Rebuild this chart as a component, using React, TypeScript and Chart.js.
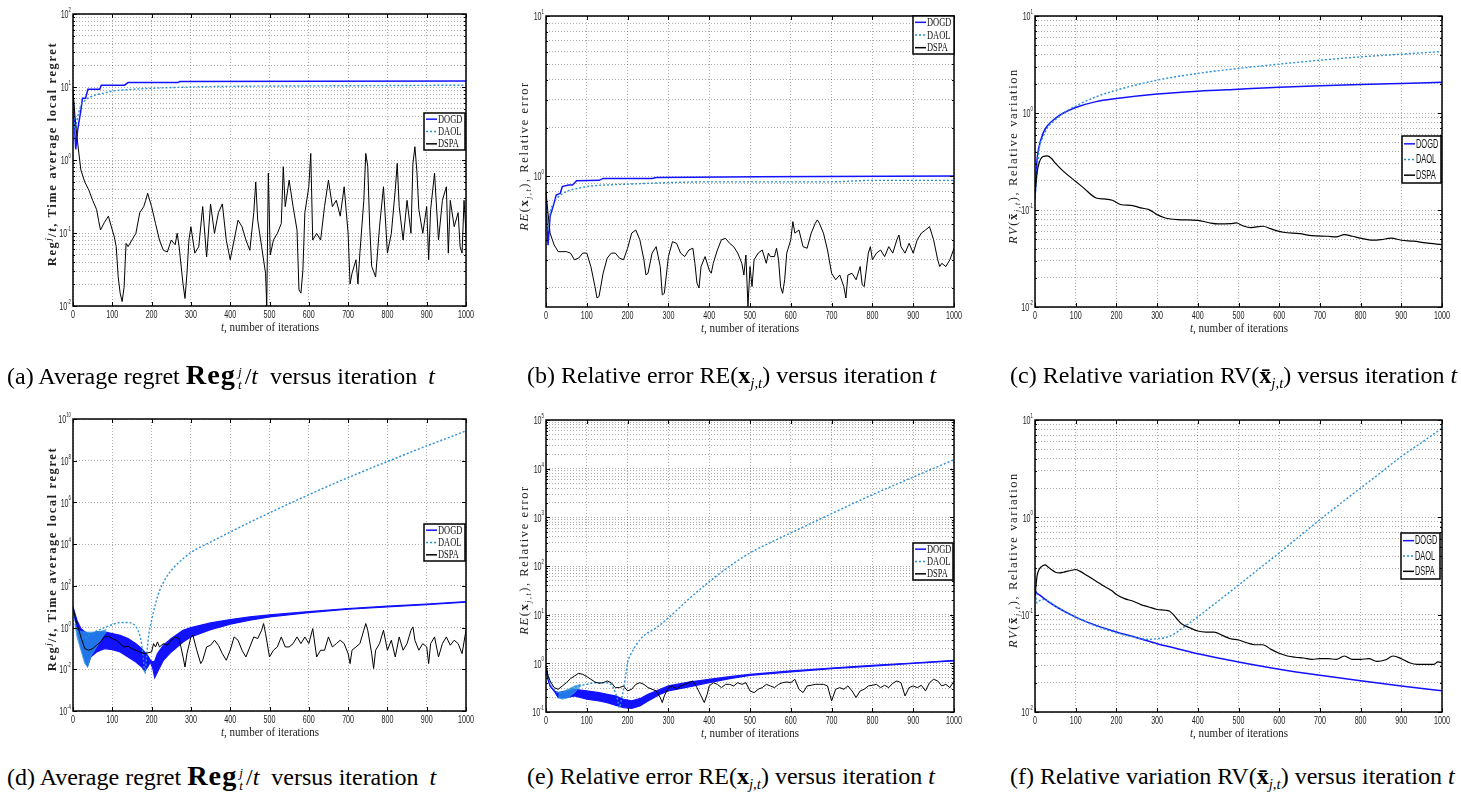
import React, { useEffect, useRef } from "react";
import { Chart, registerables } from "chart.js";

Chart.register(...registerables);

type Pt = [number, number];

// ---------- shared labels ----------
const SERIES_NAMES = ["DOGD", "DAOL", "DSPA"];
const COLOR_DOGD = "#1212ff";
const COLOR_DAOL = "#2a90d8";
const COLOR_DSPA = "#000000";
const SERIES_COLORS = [COLOR_DOGD, COLOR_DAOL, COLOR_DSPA];
const X_TICKS = [0, 100, 200, 300, 400, 500, 600, 700, 800, 900, 1000];

const A_DECADES = [-2, -1, 0, 1, 2];
const B_DECADES = [0, 1];
const C_DECADES = [-2, -1, 0, 1];
const D_DECADES = [-4, -2, 0, 2, 4, 6, 8, 10];
const E_DECADES = [-1, 0, 1, 2, 3, 4, 5];
const F_DECADES = [-2, -1, 0, 1];

// ---------- (a) ----------
const A_DOGD: Pt[] = [[0, 8.2], [3, 3.5], [7, 1.4], [12, 2.6], [20, 4.8], [24, 7.0], [32, 7.0], [38, 9.3], [68, 9.3], [72, 10.6], [131, 10.6], [140, 11.5], [267, 11.5], [272, 11.9], [1000, 12.1]];
const A_DAOL: Pt[] = [[0, 8], [5, 2.5], [10, 3.5], [20, 5.5], [30, 6.5], [50, 7.5], [80, 8.3], [100, 8.8], [150, 9.3], [200, 9.6], [300, 10.0], [400, 10.2], [500, 10.3], [700, 10.4], [1000, 10.6]];
const A_DSPA: Pt[] = [[0, 9], [5, 4], [10, 2.09], [20, 0.73], [30, 0.5], [40, 0.39], [50, 0.28], [60, 0.21], [65, 0.15], [70, 0.11], [80, 0.14], [90, 0.17], [100, 0.11], [105, 0.089], [110, 0.065], [115, 0.025], [120, 0.015], [125, 0.0115], [130, 0.018], [135, 0.072], [140, 0.065], [150, 0.08], [160, 0.099], [170, 0.19], [180, 0.23], [185, 0.28], [190, 0.35], [200, 0.23], [210, 0.135], [220, 0.08], [230, 0.058], [240, 0.055], [250, 0.08], [260, 0.069], [265, 0.099], [270, 0.065], [280, 0.02], [285, 0.0127], [290, 0.028], [295, 0.08], [300, 0.122], [310, 0.053], [320, 0.065], [330, 0.23], [340, 0.047], [350, 0.25], [360, 0.099], [370, 0.19], [380, 0.25], [390, 0.08], [400, 0.043], [410, 0.08], [420, 0.15], [430, 0.122], [440, 0.08], [450, 0.058], [460, 0.19], [465, 0.5], [470, 0.15], [480, 0.065], [490, 0.028], [493, 0.01], [497, 0.66], [502, 0.05], [510, 0.08], [520, 0.099], [530, 0.135], [535, 0.81], [540, 0.23], [550, 0.53], [560, 0.23], [570, 0.11], [575, 0.0166], [580, 0.015], [585, 0.031], [590, 0.19], [600, 0.43], [605, 1.23], [610, 0.08], [620, 0.099], [630, 0.08], [640, 0.23], [650, 0.53], [660, 0.23], [670, 0.28], [680, 0.17], [690, 0.43], [700, 0.099], [705, 0.02], [710, 0.028], [720, 0.043], [725, 0.02], [730, 0.053], [740, 0.28], [745, 1.23], [750, 0.81], [755, 0.122], [760, 0.035], [770, 0.025], [780, 0.122], [790, 0.43], [800, 0.053], [810, 0.099], [820, 0.39], [825, 0.9], [830, 0.23], [840, 0.08], [850, 0.28], [860, 0.099], [865, 0.9], [870, 1.52], [875, 0.7], [880, 0.21], [890, 0.099], [900, 0.23], [905, 0.043], [910, 0.21], [920, 0.66], [930, 0.08], [940, 0.28], [950, 0.43], [955, 0.053], [960, 0.28], [970, 0.122], [980, 0.19], [985, 0.065], [990, 0.053], [995, 0.28], [1000, 0.099]];

// ---------- (b) ----------
const B_DOGD: Pt[] = [[0, 0.7], [5, 0.37], [10, 0.56], [20, 0.68], [25, 0.76], [35, 0.78], [40, 0.86], [55, 0.88], [65, 0.88], [75, 0.935], [130, 0.94], [140, 0.967], [260, 0.967], [270, 0.98], [520, 0.99], [1000, 1.0]];
const B_DAOL: Pt[] = [[0, 0.7], [5, 0.46], [10, 0.585], [20, 0.69], [30, 0.74], [50, 0.8], [80, 0.84], [100, 0.86], [150, 0.88], [200, 0.89], [300, 0.91], [400, 0.92], [600, 0.92], [700, 0.92], [800, 0.94], [1000, 0.94]];
const B_DSPA: Pt[] = [[0, 0.8], [5, 0.585], [10, 0.44], [20, 0.371], [30, 0.337], [50, 0.337], [60, 0.33], [70, 0.3], [80, 0.307], [90, 0.33], [100, 0.33], [110, 0.272], [120, 0.204], [125, 0.173], [130, 0.177], [140, 0.247], [150, 0.307], [160, 0.33], [170, 0.33], [180, 0.307], [190, 0.3], [200, 0.354], [210, 0.44], [220, 0.46], [230, 0.4], [240, 0.3], [245, 0.241], [250, 0.247], [260, 0.33], [270, 0.362], [280, 0.272], [285, 0.181], [290, 0.185], [300, 0.314], [310, 0.389], [320, 0.38], [330, 0.33], [340, 0.314], [350, 0.345], [360, 0.354], [365, 0.285], [370, 0.214], [375, 0.2], [380, 0.272], [390, 0.314], [400, 0.259], [405, 0.247], [410, 0.285], [420, 0.345], [430, 0.4], [440, 0.408], [450, 0.38], [460, 0.362], [470, 0.33], [480, 0.285], [485, 0.241], [490, 0.321], [495, 0.153], [500, 0.272], [505, 0.204], [510, 0.3], [520, 0.33], [530, 0.345], [540, 0.285], [545, 0.33], [550, 0.314], [560, 0.314], [565, 0.354], [570, 0.3], [575, 0.204], [580, 0.185], [585, 0.225], [590, 0.33], [600, 0.4], [605, 0.519], [610, 0.44], [620, 0.46], [630, 0.362], [640, 0.354], [650, 0.44], [660, 0.507], [665, 0.532], [670, 0.507], [680, 0.44], [690, 0.345], [700, 0.247], [710, 0.225], [720, 0.241], [730, 0.204], [735, 0.173], [740, 0.241], [750, 0.247], [760, 0.225], [770, 0.272], [775, 0.209], [780, 0.204], [790, 0.33], [795, 0.362], [800, 0.3], [810, 0.33], [820, 0.345], [830, 0.314], [840, 0.362], [850, 0.33], [860, 0.4], [865, 0.428], [870, 0.362], [880, 0.33], [890, 0.38], [900, 0.33], [910, 0.4], [920, 0.44], [930, 0.46], [940, 0.483], [950, 0.4], [960, 0.3], [965, 0.272], [970, 0.285], [980, 0.272], [990, 0.3], [1000, 0.354]];

// ---------- (c) ----------
const C_DOGD: Pt[] = [[0, 0.13], [5, 0.33], [10, 0.45], [20, 0.62], [30, 0.735], [50, 0.88], [70, 1.0], [100, 1.14], [150, 1.31], [200, 1.41], [300, 1.57], [400, 1.68], [500, 1.76], [600, 1.84], [700, 1.91], [800, 1.97], [900, 2.02], [1000, 2.07]];
const C_DAOL: Pt[] = [[0, 0.13], [10, 0.42], [20, 0.57], [30, 0.7], [50, 0.85], [70, 1.0], [100, 1.18], [150, 1.47], [200, 1.72], [300, 2.18], [400, 2.56], [500, 2.88], [600, 3.19], [700, 3.5], [800, 3.79], [900, 4.04], [1000, 4.3]];
const C_DSPA: Pt[] = [[0, 0.15], [5, 0.24], [10, 0.304], [20, 0.356], [30, 0.361], [40, 0.342], [50, 0.304], [70, 0.25], [100, 0.197], [120, 0.168], [150, 0.133], [170, 0.13], [190, 0.126], [210, 0.114], [240, 0.111], [260, 0.105], [280, 0.101], [300, 0.0896], [320, 0.0827], [350, 0.0796], [400, 0.0783], [430, 0.0735], [450, 0.0718], [480, 0.0724], [495, 0.0735], [510, 0.069], [530, 0.0658], [560, 0.068], [580, 0.0638], [610, 0.059], [650, 0.0571], [680, 0.0545], [720, 0.0536], [740, 0.0528], [760, 0.0558], [780, 0.0536], [800, 0.0512], [830, 0.0488], [850, 0.0494], [875, 0.0512], [900, 0.0488], [930, 0.0477], [960, 0.0458], [1000, 0.044]];

// ---------- (d) ----------
const D_DOGD_HI: Pt[] = [[0, 9.8], [10, 2.25], [20, 0.895], [30, 0.62], [37, 0.55], [45, 0.515], [60, 0.62], [80, 0.62], [100, 0.515], [120, 0.43], [140, 0.296], [160, 0.17], [175, 0.098], [183, 0.065], [190, 0.045], [197, 0.027], [203, 0.0225], [208, 0.025], [215, 0.0565], [230, 0.142], [250, 0.296], [280, 0.745], [300, 1.0], [350, 1.67], [400, 2.42], [450, 3.25], [500, 4.06], [600, 5.86], [700, 8.17], [800, 10.6], [900, 13.2], [1000, 17.7]];
const D_DOGD_LO: Pt[] = [[0, 9.8], [10, 0.745], [20, 0.118], [30, 0.027], [37, 0.0139], [45, 0.039], [60, 0.068], [80, 0.098], [100, 0.088], [120, 0.068], [140, 0.039], [160, 0.0225], [175, 0.0129], [183, 0.0083], [190, 0.0129], [197, 0.0225], [203, 0.0108], [208, 0.004], [215, 0.0074], [230, 0.027], [250, 0.068], [280, 0.205], [300, 0.356], [350, 0.8], [400, 1.45], [450, 2.25], [500, 3.25], [600, 5.25], [700, 7.6], [800, 9.8], [900, 12.7], [1000, 16.4]];
const D_DAOL_HI: Pt[] = [[5, 1.5], [10, 0.745], [20, 0.65], [30, 0.62], [37, 0.6], [45, 0.6], [60, 0.62], [75, 0.7], [85, 0.8]];
const D_DAOL_LO: Pt[] = [[5, 1.5], [10, 0.356], [20, 0.082], [30, 0.0187], [37, 0.0129], [45, 0.039], [60, 0.118], [75, 0.356], [85, 0.62]];
const D_DAOL: Pt[] = [[0, 9.8], [10, 0.8], [20, 0.4], [30, 0.3], [40, 0.43], [60, 0.69], [80, 1.0], [100, 1.39], [120, 1.74], [140, 1.74], [155, 1.39], [165, 0.745], [172, 0.296], [178, 0.0565], [183, 0.0062], [187, 0.039], [192, 0.356], [200, 2.24], [210, 14.1], [220, 56], [237, 251], [260, 891], [280, 1995], [300, 3981], [350, 12589], [400, 38019], [450, 112202], [500, 316228], [550, 870964], [600, 2.34e6], [650, 6.17e6], [700, 1.55e7], [750, 3.8e7], [800, 9.12e7], [850, 2.19e8], [900, 5.13e8], [950, 1.17e9], [1000, 2.69e9]];
const D_DSPA: Pt[] = [[0, 9.8], [5, 3.25], [10, 1.56], [20, 0.356], [30, 0.098], [40, 0.082], [50, 0.098], [60, 0.142], [70, 0.205], [80, 0.356], [90, 0.384], [100, 0.296], [110, 0.247], [120, 0.17], [130, 0.118], [140, 0.127], [150, 0.098], [160, 0.082], [170, 0.068], [180, 0.0565], [190, 0.061], [200, 0.068], [205, 0.17], [210, 0.118], [215, 0.205], [220, 0.118], [230, 0.17], [240, 0.142], [250, 0.247], [260, 0.356], [270, 0.296], [280, 0.039], [285, 0.0129], [290, 0.0565], [300, 0.356], [305, 0.43], [315, 0.082], [325, 0.0187], [330, 0.027], [340, 0.118], [350, 0.142], [360, 0.247], [370, 0.142], [380, 0.0565], [390, 0.027], [400, 0.082], [410, 0.356], [420, 0.247], [430, 0.082], [440, 0.039], [450, 0.118], [460, 0.356], [470, 0.296], [480, 0.745], [485, 1.56], [490, 0.515], [500, 0.039], [510, 0.082], [520, 0.118], [530, 0.356], [540, 0.118], [550, 0.118], [560, 0.17], [570, 0.356], [580, 0.17], [590, 0.356], [600, 0.17], [610, 0.895], [620, 0.039], [630, 0.082], [640, 0.082], [650, 0.356], [660, 0.118], [670, 0.17], [680, 0.247], [690, 0.17], [700, 0.0565], [705, 0.0187], [710, 0.082], [720, 0.118], [730, 0.17], [740, 0.745], [745, 1.56], [750, 0.745], [760, 0.0565], [765, 0.0108], [770, 0.082], [780, 0.17], [790, 0.745], [800, 0.082], [810, 0.247], [820, 0.039], [830, 0.356], [840, 0.082], [850, 0.17], [860, 0.745], [865, 1.08], [870, 0.247], [880, 0.082], [890, 0.17], [900, 0.118], [905, 0.0187], [910, 0.17], [920, 0.356], [930, 0.039], [940, 0.17], [950, 0.356], [960, 0.142], [970, 0.247], [980, 0.17], [990, 0.0565], [1000, 0.745]];

// ---------- (e) ----------
const E_DOGD_HI: Pt[] = [[0, 0.88], [5, 0.47], [10, 0.343], [20, 0.271], [30, 0.25], [50, 0.271], [70, 0.293], [100, 0.271], [130, 0.25], [150, 0.231], [170, 0.214], [190, 0.183], [210, 0.169], [230, 0.188], [250, 0.231], [280, 0.293], [300, 0.343], [350, 0.414], [400, 0.47], [450, 0.533], [500, 0.595], [600, 0.697], [700, 0.802], [800, 0.91], [900, 1.016], [1000, 1.15]];
const E_DOGD_LO: Pt[] = [[0, 0.88], [5, 0.47], [10, 0.343], [20, 0.271], [30, 0.198], [50, 0.198], [70, 0.214], [100, 0.183], [130, 0.169], [150, 0.156], [170, 0.138], [190, 0.123], [210, 0.119], [230, 0.133], [250, 0.169], [280, 0.231], [300, 0.271], [350, 0.327], [400, 0.402], [450, 0.485], [500, 0.567], [600, 0.664], [700, 0.778], [800, 0.88], [900, 1.0], [1000, 1.12]];
const E_DAOL_HI: Pt[] = [[30, 0.25], [40, 0.26], [55, 0.293], [70, 0.343], [85, 0.37]];
const E_DAOL_LO: Pt[] = [[30, 0.198], [40, 0.183], [55, 0.198], [70, 0.25], [85, 0.343]];
const E_DAOL: Pt[] = [[0, 0.88], [5, 0.55], [10, 0.4], [20, 0.293], [30, 0.25], [40, 0.25], [60, 0.293], [80, 0.343], [100, 0.37], [120, 0.4], [150, 0.4], [165, 0.317], [175, 0.183], [180, 0.123], [185, 0.183], [190, 0.293], [197, 0.697], [200, 1.03], [210, 1.65], [222, 2.45], [238, 3.6], [271, 5.4], [300, 8.6], [353, 22], [402, 49], [450, 99], [500, 186], [557, 323], [600, 478], [700, 1190], [800, 2920], [900, 6730], [1000, 15250]];
const E_DSPA: Pt[] = [[0, 0.88], [5, 0.55], [10, 0.435], [20, 0.317], [30, 0.293], [40, 0.343], [50, 0.4], [60, 0.485], [70, 0.55], [80, 0.624], [90, 0.595], [100, 0.533], [110, 0.47], [120, 0.414], [130, 0.39], [140, 0.4], [150, 0.435], [160, 0.4], [170, 0.317], [180, 0.317], [190, 0.343], [200, 0.271], [210, 0.293], [220, 0.37], [230, 0.4], [240, 0.37], [250, 0.317], [260, 0.293], [270, 0.271], [280, 0.198], [285, 0.156], [290, 0.214], [300, 0.317], [310, 0.343], [320, 0.293], [330, 0.343], [340, 0.37], [350, 0.4], [360, 0.435], [370, 0.317], [380, 0.214], [388, 0.156], [395, 0.231], [400, 0.343], [410, 0.4], [420, 0.37], [430, 0.317], [440, 0.37], [450, 0.37], [460, 0.343], [470, 0.4], [480, 0.37], [490, 0.4], [500, 0.271], [510, 0.25], [520, 0.293], [530, 0.317], [540, 0.37], [550, 0.343], [560, 0.317], [570, 0.37], [580, 0.4], [590, 0.414], [600, 0.4], [610, 0.47], [620, 0.293], [630, 0.25], [640, 0.343], [650, 0.354], [660, 0.37], [670, 0.37], [680, 0.37], [690, 0.343], [700, 0.169], [710, 0.293], [720, 0.317], [730, 0.293], [740, 0.343], [750, 0.271], [760, 0.198], [770, 0.271], [780, 0.293], [790, 0.343], [800, 0.354], [810, 0.37], [820, 0.317], [830, 0.354], [840, 0.317], [850, 0.39], [860, 0.435], [870, 0.4], [880, 0.214], [890, 0.317], [900, 0.343], [910, 0.317], [920, 0.354], [930, 0.271], [940, 0.4], [950, 0.47], [960, 0.435], [970, 0.343], [980, 0.37], [990, 0.317], [1000, 0.435]];

// ---------- (f) ----------
const F_DOGD: Pt[] = [[0, 0.181], [5, 0.165], [10, 0.161], [20, 0.149], [50, 0.122], [100, 0.0944], [150, 0.0776], [200, 0.0663], [250, 0.058], [300, 0.0503], [350, 0.0447], [400, 0.0397], [500, 0.0327], [600, 0.0275], [700, 0.0238], [800, 0.0209], [900, 0.0185], [1000, 0.0165]];
const F_DAOL: Pt[] = [[0, 0.181], [5, 0.132], [10, 0.138], [20, 0.143], [30, 0.14], [50, 0.122], [70, 0.109], [100, 0.0944], [150, 0.0763], [200, 0.0652], [250, 0.058], [280, 0.0557], [300, 0.0566], [320, 0.058], [340, 0.0627], [360, 0.0716], [380, 0.0826], [400, 0.0951], [450, 0.138], [500, 0.201], [550, 0.295], [600, 0.431], [650, 0.639], [700, 0.946], [750, 1.38], [800, 2.0], [850, 2.89], [900, 4.22], [950, 5.87], [1000, 8.24]];
const F_DSPA: Pt[] = [[0, 0.155], [5, 0.249], [10, 0.291], [20, 0.32], [25, 0.325], [30, 0.315], [40, 0.291], [50, 0.273], [60, 0.269], [70, 0.273], [80, 0.28], [90, 0.286], [100, 0.291], [110, 0.28], [130, 0.249], [150, 0.221], [170, 0.196], [190, 0.175], [200, 0.161], [220, 0.146], [240, 0.138], [260, 0.127], [280, 0.12], [300, 0.113], [320, 0.111], [330, 0.109], [340, 0.1], [350, 0.0893], [360, 0.0807], [380, 0.0734], [400, 0.0679], [420, 0.0663], [440, 0.0663], [460, 0.0613], [480, 0.0566], [500, 0.0549], [520, 0.0515], [540, 0.0491], [560, 0.0491], [580, 0.044], [600, 0.0401], [620, 0.0376], [640, 0.0365], [660, 0.0359], [680, 0.0348], [700, 0.0353], [720, 0.0353], [740, 0.0348], [760, 0.0376], [780, 0.0348], [800, 0.0348], [820, 0.0353], [840, 0.0332], [860, 0.0342], [880, 0.0376], [900, 0.0353], [920, 0.0321], [940, 0.0309], [960, 0.0309], [980, 0.0309], [990, 0.0327], [1000, 0.0321]];

// ---------- layout / style ----------
const PAD_L = 40;
const PAD_T = 10;
const PAD_R = 25;
const PAD_B = 30;
const SERIF = '"Liberation Serif", "Times New Roman", serif';
const TICK_FONT = '11.5px "Liberation Sans", Arial, sans-serif';
const EXP_FONT = '7px "Liberation Sans", Arial, sans-serif';
const TICK_SX = 0.62;
const GRID_COLOR = "rgba(0,0,0,0.32)";

interface PanelCfg {
  rect: { l: number; t: number; r: number; b: number };
  yMin: number;
  yMax: number;
  decades: number[];
  minor: boolean;
  smooth: boolean;
  legend: { x: number; y: number; w: number; h: number; font: string; sx: number };
  dspa: Pt[];
  daol: Pt[];
  daolHi?: Pt[];
  daolLo?: Pt[];
  dogd?: Pt[];
  dogdHi?: Pt[];
  dogdLo?: Pt[];
}

const LEG_SERIF = '12px "Liberation Serif", "Times New Roman", serif';
const LEG_SANS = '12px "Liberation Sans", Arial, sans-serif';

const PANELS: PanelCfg[] = [
  { rect: { l: 73, t: 14, r: 466, b: 306 }, yMin: 1e-2, yMax: 1e2, decades: A_DECADES, minor: true, smooth: false,
    legend: { x: 351, y: 99, w: 41, h: 37, font: LEG_SERIF, sx: 0.7 }, dspa: A_DSPA, daol: A_DAOL, dogd: A_DOGD },
  { rect: { l: 546, t: 16, r: 954, b: 307 }, yMin: 0.152, yMax: 10, decades: B_DECADES, minor: true, smooth: false,
    legend: { x: 367, y: 0, w: 41, h: 38, font: LEG_SERIF, sx: 0.7 }, dspa: B_DSPA, daol: B_DAOL, dogd: B_DOGD },
  { rect: { l: 1035, t: 16, r: 1442, b: 307 }, yMin: 1e-2, yMax: 1e1, decades: C_DECADES, minor: true, smooth: true,
    legend: { x: 367, y: 120, w: 39, h: 47, font: LEG_SANS, sx: 0.62 }, dspa: C_DSPA, daol: C_DAOL, dogd: C_DOGD },
  { rect: { l: 73, t: 419, r: 466, b: 711 }, yMin: 1e-4, yMax: 1e10, decades: D_DECADES, minor: false, smooth: false,
    legend: { x: 351, y: 105, w: 41, h: 37, font: LEG_SERIF, sx: 0.7 }, dspa: D_DSPA, daol: D_DAOL, daolHi: D_DAOL_HI, daolLo: D_DAOL_LO, dogdHi: D_DOGD_HI, dogdLo: D_DOGD_LO },
  { rect: { l: 546, t: 420, r: 954, b: 712 }, yMin: 1e-1, yMax: 1e5, decades: E_DECADES, minor: true, smooth: false,
    legend: { x: 367, y: 123, w: 40, h: 37, font: LEG_SERIF, sx: 0.7 }, dspa: E_DSPA, daol: E_DAOL, daolHi: E_DAOL_HI, daolLo: E_DAOL_LO, dogdHi: E_DOGD_HI, dogdLo: E_DOGD_LO },
  { rect: { l: 1035, t: 420, r: 1442, b: 712 }, yMin: 1e-2, yMax: 1e1, decades: F_DECADES, minor: true, smooth: true,
    legend: { x: 366, y: 113, w: 39, h: 46, font: LEG_SANS, sx: 0.62 }, dspa: F_DSPA, daol: F_DAOL, dogd: F_DOGD },
];

function toXY(arr: Pt[]) {
  return arr.map(([x, y]) => ({ x, y }));
}

function gridValues(p: PanelCfg) {
  const out: number[] = [];
  if (!p.minor) {
    p.decades.forEach((e) => out.push(Math.pow(10, e)));
    return { all: out, minorOnly: [] as number[] };
  }
  const e0 = Math.floor(Math.log10(p.yMin));
  const e1 = Math.ceil(Math.log10(p.yMax));
  const minorOnly: number[] = [];
  for (let e = e0; e <= e1; e++) {
    for (let k = 1; k <= 9; k++) {
      const v = k * Math.pow(10, e);
      if (v >= p.yMin * (1 - 1e-9) && v <= p.yMax * (1 + 1e-9)) {
        out.push(v);
        if (k !== 1) minorOnly.push(v);
      }
    }
  }
  return { all: out, minorOnly };
}

function lineDs(data: Pt[], color: string, width: number, dash: number[], smooth: boolean, extra: any = {}) {
  return {
    data: toXY(data),
    borderColor: color,
    backgroundColor: color,
    borderWidth: width,
    borderDash: dash,
    pointRadius: 0,
    fill: false,
    tension: smooth ? 0.4 : 0,
    cubicInterpolationMode: smooth ? "monotone" : "default",
    ...extra,
  };
}

function buildDatasets(p: PanelCfg) {
  const ds: any[] = [];
  ds.push(lineDs(p.dspa, COLOR_DSPA, p.smooth ? 1.2 : 1, [], p.smooth));
  ds.push(lineDs(p.daol, COLOR_DAOL, 1.4, [2, 2], true));
  if (p.daolHi && p.daolLo) {
    ds.push(lineDs(p.daolHi, "rgba(50,150,220,0.9)", 0.8, [], false));
    ds.push(lineDs(p.daolLo, "rgba(50,150,220,0.9)", 0.8, [], false, { fill: "-1", backgroundColor: "rgba(40,150,225,0.75)" }));
  }
  if (p.dogd) ds.push(lineDs(p.dogd, COLOR_DOGD, 1.5, [], p.smooth));
  if (p.dogdHi && p.dogdLo) {
    ds.push(lineDs(p.dogdHi, COLOR_DOGD, 1.2, [], false));
    ds.push(lineDs(p.dogdLo, COLOR_DOGD, 1.2, [], false, { fill: "-1", backgroundColor: COLOR_DOGD }));
  }
  return ds;
}

function drawCondensed(ctx: CanvasRenderingContext2D, text: string, x: number, y: number, font: string, sx: number, align: CanvasTextAlign) {
  ctx.save();
  ctx.font = font;
  ctx.textAlign = align;
  ctx.textBaseline = "middle";
  ctx.translate(x, y);
  ctx.scale(sx, 1);
  ctx.fillText(text, 0, 0);
  ctx.restore();
}

const matlabPlugin = {
  id: "matlab",
  afterDatasetsDraw(chart: any, _args: any, o: any) {
    const ctx: CanvasRenderingContext2D = chart.ctx;
    const ca = chart.chartArea;
    const xs = chart.scales.x;
    const ys = chart.scales.y;
    ctx.save();
    ctx.strokeStyle = "#000";
    ctx.lineWidth = 1;
    ctx.setLineDash([]);
    ctx.beginPath();
    for (const v of X_TICKS) {
      const px = Math.round(xs.getPixelForValue(v)) + 0.5;
      ctx.moveTo(px, ca.bottom);
      ctx.lineTo(px, ca.bottom - 4);
      ctx.moveTo(px, ca.top);
      ctx.lineTo(px, ca.top + 4);
    }
    for (const e of o.decades) {
      const py = Math.round(ys.getPixelForValue(Math.pow(10, e))) + 0.5;
      ctx.moveTo(ca.left, py);
      ctx.lineTo(ca.left + 4, py);
      ctx.moveTo(ca.right, py);
      ctx.lineTo(ca.right - 4, py);
    }
    for (const v of o.minorOnly) {
      const py = Math.round(ys.getPixelForValue(v)) + 0.5;
      ctx.moveTo(ca.left, py);
      ctx.lineTo(ca.left + 2, py);
      ctx.moveTo(ca.right, py);
      ctx.lineTo(ca.right - 2, py);
    }
    ctx.stroke();
    ctx.lineWidth = 1.5;
    ctx.strokeRect(ca.left, ca.top, ca.right - ca.left, ca.bottom - ca.top);
    ctx.fillStyle = "#222";
    for (const v of X_TICKS) {
      drawCondensed(ctx, String(v), xs.getPixelForValue(v), ca.bottom + 9, TICK_FONT, TICK_SX, "center");
    }
    for (const e of o.decades) {
      const py = ys.getPixelForValue(Math.pow(10, e));
      const es = String(e);
      ctx.font = EXP_FONT;
      const ew = ctx.measureText(es).width * TICK_SX;
      const xr = ca.left - 2;
      drawCondensed(ctx, "10", xr - ew, py + 1, TICK_FONT, TICK_SX, "right");
      drawCondensed(ctx, es, xr - ew, py - 4, EXP_FONT, TICK_SX, "left");
    }
    const L = o.legend;
    const lx = ca.left + L.x;
    const ly = ca.top + L.y;
    ctx.fillStyle = "#fff";
    ctx.fillRect(lx, ly, L.w, L.h);
    ctx.strokeStyle = "#000";
    ctx.lineWidth = 1.5;
    ctx.strokeRect(lx, ly, L.w, L.h);
    SERIES_NAMES.forEach((name, i) => {
      const cy = ly + (L.h * (2 * i + 1)) / 6;
      ctx.beginPath();
      ctx.strokeStyle = SERIES_COLORS[i];
      ctx.lineWidth = 1.5;
      ctx.setLineDash(i === 1 ? [2, 2] : []);
      ctx.moveTo(lx + 2, cy);
      ctx.lineTo(lx + 13, cy);
      ctx.stroke();
      ctx.setLineDash([]);
      ctx.fillStyle = "#111";
      drawCondensed(ctx, name, lx + 14, cy + 0.5, L.font, L.sx, "left");
    });
    ctx.restore();
  },
};

function Panel({ cfg }: { cfg: PanelCfg }) {
  const ref = useRef<HTMLCanvasElement>(null);
  const { l, t, r, b } = cfg.rect;
  const W = r - l + PAD_L + PAD_R;
  const H = b - t + PAD_T + PAD_B;
  useEffect(() => {
    const g = gridValues(cfg);
    const chart = new Chart(ref.current as HTMLCanvasElement, {
      type: "line",
      data: { datasets: buildDatasets(cfg) },
      options: {
        animation: false,
        responsive: false,
        maintainAspectRatio: false,
        layout: { padding: { left: 0, top: PAD_T, right: PAD_R, bottom: 0 } },
        plugins: {
          legend: { display: false },
          tooltip: { enabled: false },
          matlab: { decades: cfg.decades, minorOnly: g.minorOnly, legend: cfg.legend },
        } as any,
        scales: {
          x: {
            type: "linear",
            min: 0,
            max: 1000,
            ticks: { display: false, stepSize: 100 },
            grid: { color: GRID_COLOR, lineWidth: 1, drawTicks: false },
            border: { display: false, dash: [1, 2] },
            afterFit: (s: any) => {
              s.height = PAD_B;
            },
          },
          y: {
            type: "logarithmic",
            min: cfg.yMin,
            max: cfg.yMax,
            ticks: { display: false },
            grid: { color: GRID_COLOR, lineWidth: 1, drawTicks: false },
            border: { display: false, dash: [1, 2] },
            afterBuildTicks: (s: any) => {
              s.ticks = g.all.map((v) => ({ value: v }));
            },
            afterFit: (s: any) => {
              s.width = PAD_L;
            },
          },
        } as any,
      },
      plugins: [matlabPlugin as any],
    });
    return () => chart.destroy();
  }, [cfg]);
  return (
    <div style={{ position: "absolute", left: l - PAD_L, top: t - PAD_T, width: W, height: H }}>
      <canvas ref={ref} width={W} height={H} style={{ width: W, height: H, display: "block" }} />
    </div>
  );
}

function SupSub({ sup, sub }: { sup: string; sub: string }) {
  return (
    <span style={{ display: "inline-flex", flexDirection: "column", verticalAlign: "middle", fontSize: "0.55em", lineHeight: 1.05, fontStyle: "italic", fontWeight: "normal", margin: "0 3px 0 2px" }}>
      <span>{sup}</span>
      <span>{sub}</span>
    </span>
  );
}

function Caption({ left, top, letter, kind }: { left: number; top: number; letter: string; kind: number }) {
  let body: React.ReactNode;
  if (kind === 0) {
    body = (
      <>
        ({letter}) Average regret <b style={{ fontSize: "1.18em", letterSpacing: 1 }}>Reg</b>
        <SupSub sup="j" sub="t" />/<i style={{ marginRight: 6 }}>t</i> versus iteration <i style={{ marginLeft: 5 }}>t</i>
      </>
    );
  } else if (kind === 1) {
    body = (
      <>
        ({letter}) Relative error RE(<b>x</b>
        <sub style={{ fontSize: "0.62em" }}><i>j,t</i></sub>) versus iteration <i>t</i>
      </>
    );
  } else {
    body = (
      <>
        ({letter}) Relative variation RV(<b>x̄</b>
        <sub style={{ fontSize: "0.62em" }}><i>j,t</i></sub>) versus iteration <i>t</i>
      </>
    );
  }
  return (
    <div style={{ position: "absolute", left, top, fontFamily: SERIF, fontSize: 24, whiteSpace: "nowrap", lineHeight: 1, transform: "translateY(-50%)", color: "#000" }}>
      {body}
    </div>
  );
}

function YTitle({ cx, cy, kind }: { cx: number; cy: number; kind: number }) {
  let body: React.ReactNode;
  if (kind === 0) {
    body = (
      <span style={{ fontWeight: "bold" }}>
        Reg<sup style={{ fontSize: "0.6em" }}><i>j</i></sup>/<i>t</i>, Time average local regret
      </span>
    );
  } else if (kind === 1) {
    body = (
      <span>
        <i>RE</i>(<b>x</b><sub style={{ fontSize: "0.6em" }}><i>j,t</i></sub>), Relative error
      </span>
    );
  } else {
    body = (
      <span>
        <i>RV</i>(<b>x̄</b><sub style={{ fontSize: "0.6em" }}><i>j,t</i></sub>), Relative variation
      </span>
    );
  }
  return (
    <div style={{ position: "absolute", left: cx, top: cy, transform: "translate(-50%,-50%) rotate(-90deg)", whiteSpace: "nowrap", fontSize: 12.5, letterSpacing: 1.6, fontFamily: SERIF, lineHeight: 1, color: "#222" }}>
      {body}
    </div>
  );
}

function XTitle({ cx, cy }: { cx: number; cy: number }) {
  return (
    <div style={{ position: "absolute", left: cx, top: cy, transform: "translate(-50%,-50%) scaleX(0.92)", whiteSpace: "nowrap", fontSize: 12, fontFamily: SERIF, lineHeight: 1, color: "#222" }}>
      <i>t</i>, number of iterations
    </div>
  );
}

export default function App() {
  return (
    <div style={{ position: "absolute", left: 0, top: 0, width: 1461, height: 796, background: "#fff", overflow: "hidden" }}>
      {PANELS.map((p, i) => (
        <Panel key={i} cfg={p} />
      ))}
      {PANELS.map((p, i) => (
        <YTitle key={"y" + i} cx={p.rect.l - 21} cy={(p.rect.t + p.rect.b) / 2 - 6} kind={i % 3} />
      ))}
      {PANELS.map((p, i) => (
        <XTitle key={"x" + i} cx={(p.rect.l + p.rect.r) / 2} cy={p.rect.b + 21} />
      ))}
      <Caption left={7} top={377} letter="a" kind={0} />
      <Caption left={527} top={377} letter="b" kind={1} />
      <Caption left={1010} top={377} letter="c" kind={2} />
      <Caption left={7} top={778} letter="d" kind={0} />
      <Caption left={527} top={778} letter="e" kind={1} />
      <Caption left={1010} top={778} letter="f" kind={2} />
    </div>
  );
}
